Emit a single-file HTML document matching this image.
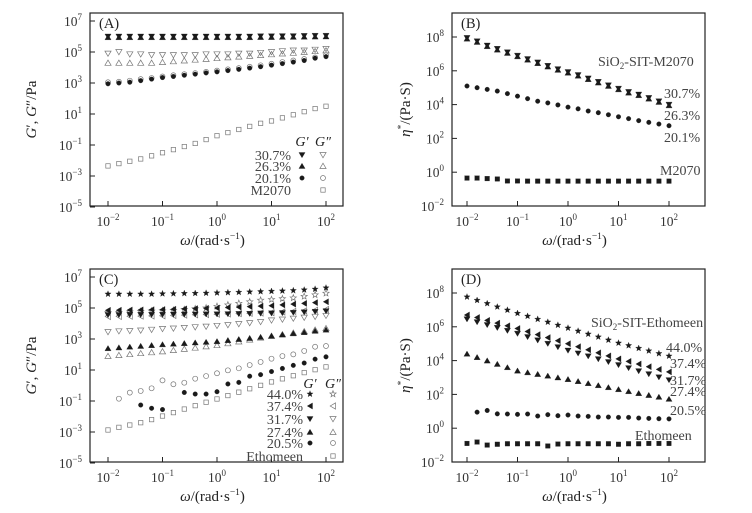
<!DOCTYPE html>
<html><head><meta charset="utf-8"><style>
html,body{margin:0;padding:0;background:#fff;}
svg{display:block;font-family:"Liberation Serif",serif;}
</style></head><body>
<svg id="chart" width="752" height="513" viewBox="0 0 752 513" xmlns="http://www.w3.org/2000/svg"></svg>
<script>
// x categories: log10(omega) from -2 to 2 step 0.2
const omegaLog = [-2,-1.8,-1.6,-1.4,-1.2,-1,-0.8,-0.6,-0.4,-0.2,0,0.2,0.4,0.6,0.8,1,1.2,1.4,1.6,1.8,2];
// Panel A (log10 Pa)
const a307G1 = [6.0,6.0,6.0,6.0,6.0,6.0,6.0,6.0,6.0,6.0,6.0,6.0,6.0,6.0,6.02,6.02,6.03,6.03,6.04,6.05,6.05];
const a263G1 = [5.95,5.95,5.95,5.95,5.95,5.95,5.95,5.95,5.95,5.95,5.95,5.95,5.95,5.95,5.96,5.96,5.97,5.97,5.98,5.99,6.0];
const a307G2 = [4.9,5.0,4.85,4.85,4.8,4.8,4.8,4.8,4.8,4.85,4.85,4.85,4.9,4.9,4.95,5.0,5.05,5.1,5.1,5.15,5.2];
const a263G2 = [4.3,4.3,4.3,4.3,4.3,4.35,4.4,4.45,4.5,4.55,4.6,4.65,4.7,4.75,4.8,4.85,4.9,4.95,5.0,5.05,5.1];
const a201G1 = [2.95,3.0,3.05,3.15,3.25,3.35,3.42,3.5,3.57,3.65,3.72,3.8,3.88,3.96,4.05,4.15,4.25,4.35,4.45,4.6,4.7];
const a201G2 = [3.05,3.08,3.15,3.25,3.32,3.42,3.5,3.57,3.64,3.72,3.8,3.88,3.96,4.05,4.14,4.24,4.35,4.45,4.55,4.65,4.8];
const aM2070G2 = [-2.35,-2.2,-2.05,-1.9,-1.7,-1.5,-1.3,-1.1,-0.9,-0.65,-0.4,-0.2,0.0,0.2,0.4,0.55,0.75,0.95,1.15,1.35,1.5];
// Panel B (log10 Pa.s)
const b307Eta = [7.95,7.75,7.5,7.3,7.1,6.9,6.7,6.5,6.3,6.1,5.93,5.75,5.55,5.35,5.15,4.95,4.75,4.6,4.4,4.2,4.0];
const b263Eta = [7.9,7.7,7.45,7.25,7.05,6.85,6.65,6.45,6.25,6.05,5.88,5.7,5.5,5.3,5.1,4.9,4.7,4.55,4.35,4.15,3.95];
const b201Eta = [5.1,5.0,4.9,4.8,4.65,4.5,4.35,4.2,4.1,3.98,3.85,3.75,3.62,3.52,3.4,3.28,3.17,3.05,2.95,2.85,2.75];
const bM2070Eta = [-0.35,-0.35,-0.38,-0.4,-0.52,-0.52,-0.53,-0.53,-0.53,-0.53,-0.53,-0.53,-0.53,-0.53,-0.53,-0.53,-0.53,-0.53,-0.53,-0.53,-0.53];
// Panel C
const c440G1 = [5.9,5.9,5.9,5.9,5.9,5.92,5.93,5.94,5.95,5.96,5.98,6.0,6.02,6.04,6.06,6.08,6.1,6.13,6.17,6.22,6.3];
const c440G2 = [4.7,4.72,4.75,4.78,4.8,4.82,4.85,4.9,4.95,5.0,5.1,5.2,5.3,5.4,5.5,5.55,5.6,5.65,5.75,5.85,5.95];
const c374G1 = [4.85,4.86,4.87,4.88,4.89,4.9,4.92,4.94,4.96,4.98,5.0,5.03,5.06,5.09,5.12,5.15,5.2,5.25,5.3,5.35,5.4];
const c374G2 = [4.45,4.46,4.47,4.48,4.49,4.5,4.52,4.54,4.56,4.58,4.6,4.62,4.64,4.66,4.68,4.7,4.74,4.78,4.82,4.86,4.9];
const c317G1 = [4.55,4.55,4.56,4.56,4.57,4.57,4.58,4.58,4.59,4.6,4.6,4.61,4.62,4.63,4.65,4.66,4.68,4.7,4.73,4.76,4.8];
const c317G2 = [3.45,3.5,3.52,3.55,3.6,3.65,3.68,3.72,3.76,3.8,3.85,3.9,3.97,4.03,4.1,4.2,4.26,4.32,4.38,4.44,4.5];
const c274G1 = [2.4,2.45,2.5,2.55,2.6,2.65,2.69,2.73,2.77,2.81,2.85,2.92,2.99,3.06,3.13,3.2,3.28,3.36,3.44,3.52,3.6];
const c274G2 = [1.9,1.96,2.02,2.08,2.14,2.2,2.28,2.36,2.44,2.52,2.6,2.72,2.84,2.96,3.08,3.2,3.3,3.4,3.5,3.6,3.7];
const c205G1 = [null,null,null,-1.26,-1.47,-1.55,null,-0.45,-0.55,-0.55,-0.4,0.1,0.2,0.6,0.7,0.9,1.1,1.3,1.45,1.7,1.85];
const c205G2 = [null,-0.85,-0.46,-0.35,-0.18,0.33,0.08,0.18,0.44,0.61,0.79,0.98,1.11,1.32,1.52,1.73,1.9,2.01,2.23,2.5,2.55];
const cEthG2 = [-2.87,-2.7,-2.55,-2.4,-2.2,-1.97,-1.75,-1.52,-1.3,-1.08,-0.87,-0.65,-0.43,-0.21,0.01,0.23,0.43,0.63,0.83,1.02,1.2];
// Panel D
const d440Eta = [7.77,7.57,7.38,7.18,6.99,6.8,6.63,6.45,6.28,6.1,5.93,5.75,5.57,5.4,5.22,5.04,4.89,4.73,4.58,4.42,4.27];
const d374Eta = [6.7,6.55,6.38,6.22,6.06,5.9,5.72,5.54,5.36,5.18,5.0,4.82,4.64,4.46,4.28,4.1,3.95,3.8,3.64,3.48,3.33];
const d317Eta = [6.45,6.28,6.11,5.94,5.77,5.6,5.4,5.2,5.0,4.8,4.6,4.43,4.26,4.09,3.92,3.74,3.56,3.38,3.2,3.02,2.85];
const d274Eta = [4.4,4.2,4.0,3.8,3.6,3.4,3.3,3.2,3.1,3.0,2.9,2.78,2.66,2.54,2.42,2.3,2.18,2.07,1.96,1.85,1.73];
const d205Eta = [null,0.95,1.05,0.85,0.84,0.82,0.84,0.72,0.8,0.74,0.78,0.72,0.7,0.66,0.66,0.64,0.64,0.6,0.58,0.56,0.55];
const dEthEta = [-0.9,-0.82,-1.0,-0.95,-0.92,-0.92,-0.92,-0.92,-1.05,-0.94,-0.92,-0.92,-0.92,-0.92,-0.92,-0.95,-0.92,-0.92,-0.9,-0.9,-0.9];

const NS = "http://www.w3.org/2000/svg";
const svg = document.getElementById('chart');
function mk(tag, attrs, parent){ const e = document.createElementNS(NS, tag); for (const k in attrs) e.setAttribute(k, attrs[k]); (parent||svg).appendChild(e); return e; }

const INK = '#1a1a1a', GREY = '#777';
function marker(g, type, cx, cy, filled){
  const s = 3.1;
  const fill = filled ? INK : 'none', stroke = filled ? INK : GREY, sw = filled ? 0.3 : 0.7;
  let e;
  if (type === 'circle') e = mk('circle', {cx:cx, cy:cy, r:filled?2.3:2.5, fill:fill, stroke:stroke, 'stroke-width':sw}, g);
  else if (type === 'square') { const h = filled?2.3:2.2; e = mk('rect', {x:cx-h, y:cy-h, width:2*h, height:2*h, fill:fill, stroke:stroke, 'stroke-width':sw}, g); }
  else {
    let pts;
    if (type === 'tdown') pts = [[cx-s,cy-s*0.8],[cx+s,cy-s*0.8],[cx,cy+s*0.9]];
    else if (type === 'tup') pts = [[cx-s,cy+s*0.8],[cx+s,cy+s*0.8],[cx,cy-s*0.9]];
    else if (type === 'tleft') pts = [[cx+s*0.8,cy-s],[cx+s*0.8,cy+s],[cx-s*0.9,cy]];
    else { pts = []; for (let i=0;i<10;i++){ const r = i%2===0 ? 3.3 : 1.4; const a = -Math.PI/2 + i*Math.PI/5; pts.push([cx+r*Math.cos(a), cy+r*Math.sin(a)]); } }
    e = mk('polygon', {points: pts.map(p=>p[0].toFixed(1)+','+p[1].toFixed(1)).join(' '), fill:fill, stroke:stroke, 'stroke-width':sw}, g);
  }
  return e;
}
function txt(parent, x, y, str, opts){
  const o = Object.assign({size:13, anchor:'start', fill:'#222'}, opts||{});
  const t = mk('text', {x:x, y:y, 'font-size':o.size, 'text-anchor':o.anchor, fill:o.fill}, parent);
  t.textContent = str; return t;
}
function pow10(parent, x, y, exp, anchor){
  const t = mk('text', {x:x, y:y, 'font-size':13.5, 'text-anchor':anchor, fill:'#333'}, parent);
  t.appendChild(document.createTextNode('10'));
  const sp = mk('tspan', {dy:-6, 'font-size':9}, t);
  sp.textContent = exp < 0 ? '\u2212' + (-exp) : String(exp);
  return t;
}

function panel(cfg){
  const g = mk('g', {});
  
  
  const X = v => cfg.x0 + (v + 2) * cfg.dx;
  const Y = v => cfg.yTop + (cfg.yTopVal - v) * cfg.dy;
  const box = mk('rect', {x:cfg.L, y:cfg.T, width:cfg.R-cfg.L, height:cfg.B-cfg.T, fill:'none', stroke:'#222', 'stroke-width':1.2}, g);
  
  
  [-2,-1,0,1,2].forEach(v => {
    mk('line', {x1:X(v), x2:X(v), y1:cfg.B, y2:cfg.B-5, stroke:'#222', 'stroke-width':1}, g);
    const lb = pow10(g, X(v), cfg.B+20, v, 'middle');
    
    
  });
  cfg.yticks.forEach(v => {
    mk('line', {x1:cfg.L, x2:cfg.L+5, y1:Y(v), y2:Y(v), stroke:'#222', 'stroke-width':1}, g);
    const lb = pow10(g, cfg.L-8, Y(v)+5, v, 'end');
    
    
  });
  const xt = mk('text', {x:(cfg.L+cfg.R)/2 - 4, y:cfg.B+39, 'font-size':15, 'text-anchor':'middle', fill:'#222'}, g);
  xt.innerHTML = '<tspan font-style="italic">ω</tspan>/(rad·s<tspan dy="-6" font-size="9.5">−1</tspan><tspan dy="6">)</tspan>';
  
  
  const cy = (cfg.T+cfg.B)/2;
  const yt = mk('text', {x:cfg.ylabX, y:cy, 'font-size':15, 'text-anchor':'middle', fill:'#222', transform:'rotate(-90 '+cfg.ylabX+' '+cy+')'}, g);
  yt.innerHTML = cfg.ylab;
  
  
  const pl = txt(g, cfg.L+9, cfg.T+15, cfg.letter, {size:14.5});
  
  
  cfg.series.forEach(s => {
    const sg = mk('g', {}, g);
    
    
    s.data.forEach((v, i) => {
      if (v === null) return;
      const m = marker(sg, s.type, X(omegaLog[i]), Y(v), s.filled);
      
      
    });
  });
  (cfg.notes||[]).forEach(n => {
    const t = mk('text', {x:n.x, y:n.y, 'font-size':14, fill:'#444'}, g);
    t.innerHTML = n.html;
    
    
  });
  (cfg.legend||[]).forEach(r => {
    const lg = mk('g', {}, g);
    
    
    txt(lg, cfg.legX, r.y+5, r.label, {anchor:'end', size:14, fill:'#444'});
    if (r.type1) marker(lg, r.type1, cfg.legX1, r.y, true);
    marker(lg, r.type2, cfg.legX2, r.y, false);
  });
  if (cfg.legHeadY){
    const h = mk('text', {x:cfg.legX1, y:cfg.legHeadY+5, 'font-size':14, 'text-anchor':'middle', 'font-style':'italic', fill:'#222'}, g);
    h.textContent = 'G′';
    
    
    const h2 = mk('text', {x:cfg.legX2, y:cfg.legHeadY+5, 'font-size':14, 'text-anchor':'middle', 'font-style':'italic', fill:'#222'}, g);
    h2.textContent = 'G″';
    
    
  }
}

const gLab = '<tspan font-style="italic">G</tspan>′, <tspan font-style="italic">G</tspan>″/Pa';
const etaLab = '<tspan font-style="italic">η</tspan><tspan dy="-6" font-size="9.5">*</tspan><tspan dy="6">/(Pa·S)</tspan>';

panel({name:'panel-a', letter:'(A)', L:90, R:343, T:13, B:206, x0:108, dx:54.5, yTop:21, yTopVal:7, dy:15.5,
  yticks:[7,5,3,1,-1,-3,-5], ylab:gLab, ylabX:36,
  series:[
    {name:'g1-30.7', type:'tdown', filled:true, data:a307G1},
    {name:'g1-26.3', type:'tup', filled:true, data:a263G1},
    {name:'g2-30.7', type:'tdown', filled:false, data:a307G2},
    {name:'g2-26.3', type:'tup', filled:false, data:a263G2},
    {name:'g2-20.1', type:'circle', filled:false, data:a201G2},
    {name:'g1-20.1', type:'circle', filled:true, data:a201G1},
    {name:'g2-m2070', type:'square', filled:false, data:aM2070G2}],
  legX:291, legX1:302, legX2:323, legHeadY:141,
  legend:[{label:'30.7%', y:155, type1:'tdown', type2:'tdown'},{label:'26.3%', y:166, type1:'tup', type2:'tup'},
          {label:'20.1%', y:178, type1:'circle', type2:'circle'},{label:'M2070', y:190, type1:null, type2:'square'}]
});
panel({name:'panel-b', letter:'(B)', L:452, R:705, T:13, B:206, x0:467, dx:50.5, yTop:37, yTopVal:8, dy:16.9,
  yticks:[8,6,4,2,0,-2], ylab:etaLab, ylabX:410,
  series:[
    {name:'eta-30.7', type:'tdown', filled:true, data:b307Eta},
    {name:'eta-26.3', type:'tup', filled:true, data:b263Eta},
    {name:'eta-20.1', type:'circle', filled:true, data:b201Eta},
    {name:'eta-m2070', type:'square', filled:true, data:bM2070Eta}],
  notes:[{name:'series-title', x:598, y:66, html:'SiO<tspan dy="3" font-size="9">2</tspan><tspan dy="-3">-SIT-M2070</tspan>'},
    {name:'label-30.7', x:664, y:98, html:'30.7%'},{name:'label-26.3', x:664, y:120, html:'26.3%'},
    {name:'label-20.1', x:664, y:142, html:'20.1%'},{name:'label-m2070', x:660, y:175, html:'M2070'}]
});
panel({name:'panel-c', letter:'(C)', L:90, R:343, T:269, B:462, x0:108, dx:54.5, yTop:277, yTopVal:7, dy:15.5,
  yticks:[7,5,3,1,-1,-3,-5], ylab:gLab, ylabX:36,
  series:[
    {name:'g2-44.0', type:'star', filled:false, data:c440G2},
    {name:'g2-37.4', type:'tleft', filled:false, data:c374G2},
    {name:'g2-31.7', type:'tdown', filled:false, data:c317G2},
    {name:'g2-27.4', type:'tup', filled:false, data:c274G2},
    {name:'g2-20.5', type:'circle', filled:false, data:c205G2},
    {name:'g2-ethomeen', type:'square', filled:false, data:cEthG2},
    {name:'g1-44.0', type:'star', filled:true, data:c440G1},
    {name:'g1-37.4', type:'tleft', filled:true, data:c374G1},
    {name:'g1-31.7', type:'tdown', filled:true, data:c317G1},
    {name:'g1-27.4', type:'tup', filled:true, data:c274G1},
    {name:'g1-20.5', type:'circle', filled:true, data:c205G1}],
  legX:303, legX1:310, legX2:333, legHeadY:383,
  legend:[{label:'44.0%', y:394, type1:'star', type2:'star'},{label:'37.4%', y:406, type1:'tleft', type2:'tleft'},
          {label:'31.7%', y:419, type1:'tdown', type2:'tdown'},{label:'27.4%', y:432, type1:'tup', type2:'tup'},
          {label:'20.5%', y:443, type1:'circle', type2:'circle'},{label:'Ethomeen', y:456, type1:null, type2:'square'}]
});
panel({name:'panel-d', letter:'(D)', L:452, R:705, T:269, B:462, x0:467, dx:50.5, yTop:293, yTopVal:8, dy:16.9,
  yticks:[8,6,4,2,0,-2], ylab:etaLab, ylabX:410,
  series:[
    {name:'eta-44.0', type:'star', filled:true, data:d440Eta},
    {name:'eta-37.4', type:'tleft', filled:true, data:d374Eta},
    {name:'eta-31.7', type:'tdown', filled:true, data:d317Eta},
    {name:'eta-27.4', type:'tup', filled:true, data:d274Eta},
    {name:'eta-20.5', type:'circle', filled:true, data:d205Eta},
    {name:'eta-ethomeen', type:'square', filled:true, data:dEthEta}],
  notes:[{name:'series-title', x:591, y:327, html:'SiO<tspan dy="3" font-size="9">2</tspan><tspan dy="-3">-SIT-Ethomeen</tspan>'},
    {name:'label-44.0', x:666, y:352, html:'44.0%'},{name:'label-37.4', x:670, y:368, html:'37.4%'},
    {name:'label-31.7', x:670, y:385, html:'31.7%'},{name:'label-27.4', x:670, y:396, html:'27.4%'},
    {name:'label-20.5', x:670, y:415, html:'20.5%'},{name:'label-ethomeen', x:635, y:440, html:'Ethomeen'}]
});
</script>
</body></html>
